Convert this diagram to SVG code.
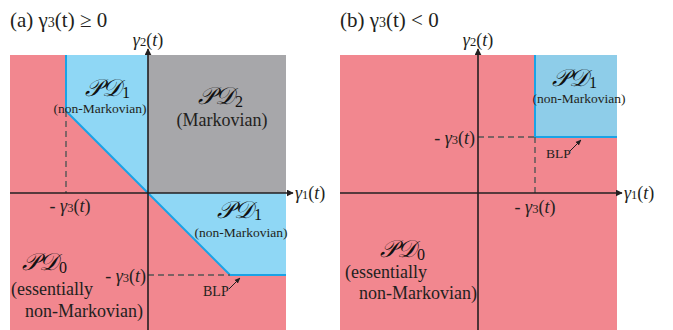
<svg xmlns="http://www.w3.org/2000/svg" width="673" height="330" viewBox="0 0 673 330">
<defs>
<style>
text{font-family:"Liberation Serif",serif;fill:#231f20}
.m{font-size:18px}
.s{font-size:12.5px}
.i{font-style:italic}
.pd{font-style:italic;fill:#111;font-size:24px}
.sub{font-size:16px;font-style:normal}
.ax{stroke:#231f20;stroke-width:1.6;fill:none}
.dash{stroke:#555;stroke-width:1.4;stroke-dasharray:6,4;fill:none}
.bl{stroke:#1aa3e6;stroke-width:2;fill:none}
.ar{stroke:#231f20;stroke-width:1;fill:none}
</style>
<marker id="ah" viewBox="0 0 10 10" refX="9" refY="5" markerWidth="7" markerHeight="7" orient="auto" markerUnits="userSpaceOnUse"><path d="M0,0L10,5L0,10z" fill="#231f20"/></marker>
<marker id="sa" viewBox="0 0 10 10" refX="9" refY="5" markerWidth="6" markerHeight="6" orient="auto" markerUnits="userSpaceOnUse"><path d="M0,1L10,5L0,9z" fill="#231f20"/></marker>
</defs>
<rect width="673" height="330" fill="#fff"/>

<g id="panel-a">
<text x="10" y="27" font-size="21">(a) γ<tspan font-size="14">3</tspan>(t) ≥ 0</text>
<g id="a-regions">
<rect id="a-pd0" x="10" y="55" width="276" height="275" fill="#f2878f"/>
<polygon id="a-pd2" points="148,55 286,55 286,193 148,193" fill="#a7a7aa"/>
<polygon id="a-pd1" points="66,55 148,55 148,193 286,193 286,275 230,275 66,111" fill="#8fd7f5"/>
</g>
<g id="a-connectors">
<polyline class="bl" points="66,55 66,111 230,275 286,275"/>
<line class="dash" x1="66" y1="111" x2="66" y2="193"/>
<line class="dash" x1="148" y1="275" x2="230" y2="275"/>
<line class="ax" x1="148" y1="330" x2="148" y2="49" marker-end="url(#ah)"/>
<line class="ax" x1="10" y1="193" x2="293" y2="193" marker-end="url(#ah)"/>
<line class="ar" x1="229" y1="289" x2="240" y2="278" marker-end="url(#sa)"/>
</g>
<text class="m" x="148" y="46" text-anchor="middle"><tspan class="i">γ</tspan><tspan class="s">2</tspan>(<tspan class="i">t</tspan>)</text>
<text class="m" x="295" y="199"><tspan class="i">γ</tspan><tspan class="s">1</tspan>(<tspan class="i">t</tspan>)</text>
<text class="m" x="70" y="212" text-anchor="middle">- <tspan class="i">γ</tspan><tspan class="s">3</tspan>(<tspan class="i">t</tspan>)</text>
<text class="m" x="146" y="282" text-anchor="end">- <tspan class="i">γ</tspan><tspan class="s">3</tspan>(<tspan class="i">t</tspan>)</text>
<text x="203" y="296" font-size="14">BLP</text>
<g id="a-node-pd1-top">
<text class="pd" x="85" y="96">𝒫𝒟<tspan class="sub" dx="1" dy="2">1</tspan></text>
<text x="100" y="113" font-size="13.5" text-anchor="middle">(non-Markovian)</text>
</g>
<g id="a-node-pd2">
<text class="pd" x="198" y="104">𝒫𝒟<tspan class="sub" dx="1" dy="3">2</tspan></text>
<text x="222" y="126" font-size="18" text-anchor="middle">(Markovian)</text>
</g>
<g id="a-node-pd1-right">
<text class="pd" x="217" y="218">𝒫𝒟<tspan class="sub" dx="1" dy="2">1</tspan></text>
<text x="241" y="237" font-size="13.5" text-anchor="middle">(non-Markovian)</text>
</g>
<g id="a-node-pd0">
<text class="pd" x="22" y="270" font-size="27">𝒫𝒟<tspan class="sub" font-size="18" dx="1" dy="3">0</tspan></text>
<text x="11" y="295" font-size="18">(essentially</text>
<text x="143" y="317" font-size="18" text-anchor="end">non-Markovian)</text>
</g>
</g>

<g id="panel-b">
<text x="340" y="27" font-size="21">(b) γ<tspan font-size="14">3</tspan>(t) &lt; 0</text>
<g id="b-regions">
<rect id="b-pd0" x="340" y="55" width="277" height="275" fill="#f2878f"/>
<rect id="b-pd1" x="535" y="55" width="82" height="82" fill="#8ecde9"/>
</g>
<g id="b-connectors">
<polyline class="bl" points="535,55 535,137 617,137"/>
<line class="dash" x1="478" y1="137" x2="535" y2="137"/>
<line class="dash" x1="535" y1="137" x2="535" y2="193"/>
<line class="ax" x1="478" y1="330" x2="478" y2="49" marker-end="url(#ah)"/>
<line class="ax" x1="340" y1="193" x2="622" y2="193" marker-end="url(#ah)"/>
<line class="ar" x1="570" y1="151" x2="581" y2="140" marker-end="url(#sa)"/>
</g>
<text class="m" x="478" y="46" text-anchor="middle"><tspan class="i">γ</tspan><tspan class="s">2</tspan>(<tspan class="i">t</tspan>)</text>
<text class="m" x="624" y="199"><tspan class="i">γ</tspan><tspan class="s">1</tspan>(<tspan class="i">t</tspan>)</text>
<text class="m" x="535" y="213" text-anchor="middle">- <tspan class="i">γ</tspan><tspan class="s">3</tspan>(<tspan class="i">t</tspan>)</text>
<text class="m" x="475" y="144" text-anchor="end">- <tspan class="i">γ</tspan><tspan class="s">3</tspan>(<tspan class="i">t</tspan>)</text>
<text x="546" y="158" font-size="13.5">BLP</text>
<g id="b-node-pd1">
<text class="pd" x="552" y="86">𝒫𝒟<tspan class="sub" dx="1" dy="2">1</tspan></text>
<text x="579" y="103" font-size="13.5" text-anchor="middle">(non-Markovian)</text>
</g>
<g id="b-node-pd0">
<text class="pd" x="380" y="257" font-size="27">𝒫𝒟<tspan class="sub" font-size="18" dx="1" dy="3">0</tspan></text>
<text x="345" y="278" font-size="18">(essentially</text>
<text x="477" y="299" font-size="18" text-anchor="end">non-Markovian)</text>
</g>
</g>
</svg>
